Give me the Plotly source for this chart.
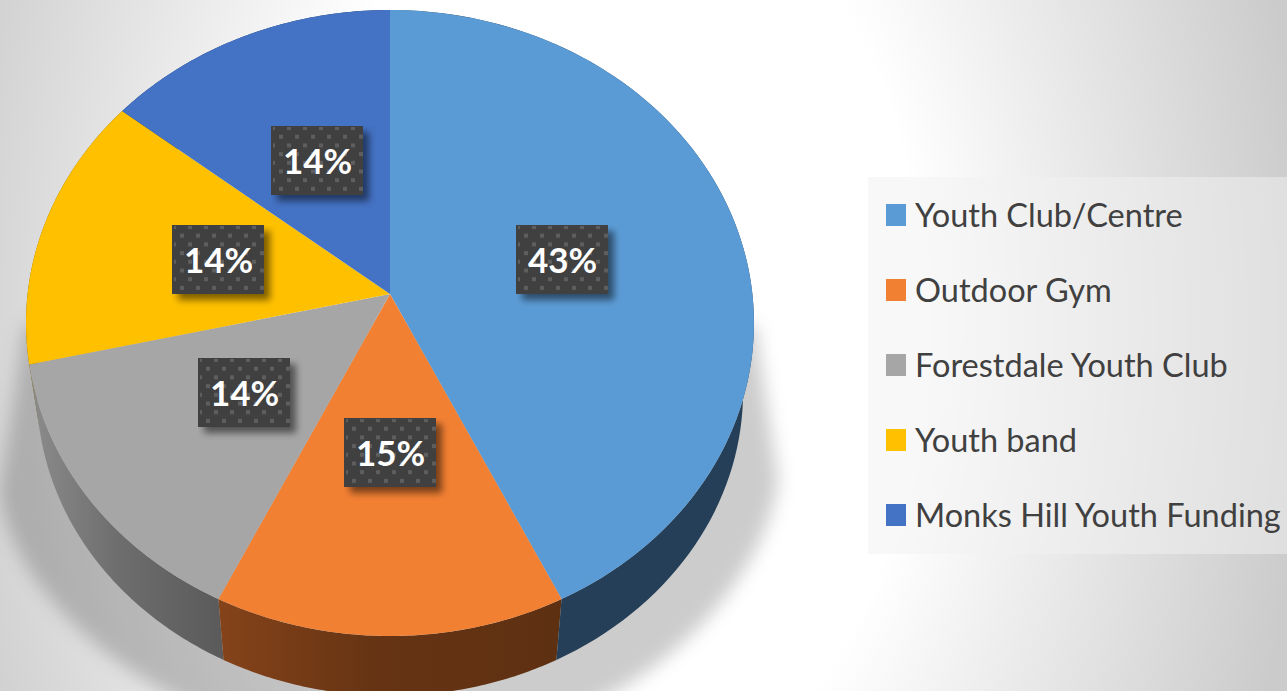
import base64, math
import numpy as np
import plotly.graph_objects as go

categories = ["Youth Club/Centre", "Outdoor Gym", "Forestdale Youth Club", "Youth band", "Monks Hill Youth Funding"]
counts = [3, 1, 1, 1, 1]
pct_labels = ["43%", "15%", "14%", "14%", "14%"]
top_colors = ["#5b9bd5", "#f28033", "#a6a6a6", "#ffc000", "#4472c4"]
wall_left = ["#243f57", "#85431a", "#8c8c8c", "#7f6000", "#203864"]
wall_mid = ["#243f57", "#663413", "#6e6e6e", "#7f6000", "#203864"]
wall_right = ["#243f57", "#5e3012", "#5a5a5a", "#7f6000", "#203864"]
label_boxes = [(516, 225), (344, 418), (198, 358), (172, 225), (271, 126)]
legend_y = [215, 290, 365, 440, 515]

W, H = 1287, 691
CX, CY = 390.0, 294.0
K, A, B = 0.0927, 310.3, 362.4
PLATE_DY, PLATE_S = 70.0, 0.97
BOX_W, BOX_H = 92, 69


def rim(theta, dy=0.0, s=1.0):
    X, Y = np.sin(theta), np.cos(theta)
    d = 1 + K * Y
    return CX + s * B * X / d, CY + dy - s * A * Y / d


def svg_uri(svg):
    return "data:image/svg+xml;base64," + base64.b64encode(svg.encode()).decode()


background = f"""<svg xmlns='http://www.w3.org/2000/svg' width='{W}' height='{H}' viewBox='0 0 {W} {H}'>
<defs>
<radialGradient id='bg' gradientUnits='userSpaceOnUse' cx='0' cy='0' r='700'
 gradientTransform='translate(610 325) scale(1 1.53)'>
<stop offset='0' stop-color='#ffffff'/><stop offset='0.445' stop-color='#ffffff'/>
<stop offset='1' stop-color='#cbcbcb'/></radialGradient>
<filter id='blur' x='-20%' y='-20%' width='140%' height='140%'><feGaussianBlur stdDeviation='9'/></filter>
</defs>
<rect width='{W}' height='{H}' fill='url(#bg)'/>
<path d='M755,325 L778,480 C768,565 680,680 540,725 L240,725 C110,680 8,580 0,490 L25,325 Z'
 fill='#000' fill-opacity='0.2' filter='url(#blur)'/>
</svg>"""

label_svg = f"""<svg xmlns='http://www.w3.org/2000/svg' width='{BOX_W+16}' height='{BOX_H+16}' viewBox='0 0 {BOX_W+16} {BOX_H+16}'>
<defs>
<pattern id='p' patternUnits='userSpaceOnUse' width='16' height='17.4'>
<rect x='0' y='0' width='4' height='4' fill='#5e5e5e'/>
<rect x='8' y='8.7' width='4' height='4' fill='#5e5e5e'/></pattern>
<filter id='s' x='-20%' y='-20%' width='140%' height='140%'><feGaussianBlur stdDeviation='3.5'/></filter>
</defs>
<rect x='6' y='6' width='{BOX_W}' height='{BOX_H}' fill='#000' fill-opacity='0.5' filter='url(#s)'/>
<rect width='{BOX_W}' height='{BOX_H}' fill='#404040'/>
<rect x='2' y='1' width='{BOX_W-2}' height='{BOX_H-1}' fill='url(#p)'/>
</svg>"""

fig = go.Figure()

fractions = np.array(counts, dtype=float) / sum(counts)
ends = np.cumsum(fractions) * 2 * math.pi
starts = np.concatenate([[0.0], ends[:-1]])

# side walls first (back slices first), then the top faces
for i in [4, 3, 2, 1, 0]:
    t = np.linspace(starts[i], ends[i], 90)
    xa, ya = rim(t)
    xb, yb = rim(t[::-1], PLATE_DY, PLATE_S)
    fig.add_trace(go.Scatter(
        x=np.r_[xa, xb], y=np.r_[ya, yb], mode="none", fill="toself",
        fillgradient=dict(type="horizontal",
                          colorscale=[[0, wall_left[i]], [0.45, wall_mid[i]], [1, wall_right[i]]]),
        hoverinfo="skip", showlegend=False))

for i in range(len(categories)):
    t = np.linspace(starts[i], ends[i], 120)
    xa, ya = rim(t)
    fig.add_trace(go.Scatter(
        x=np.r_[CX, xa, CX], y=np.r_[CY, ya, CY], mode="none", fill="toself",
        fillcolor=top_colors[i], name=categories[i], text=pct_labels[i],
        hoverinfo="name+text", showlegend=False))

images = [dict(source=svg_uri(background), xref="paper", yref="paper", x=0, y=1, sizex=1, sizey=1,
               xanchor="left", yanchor="top", sizing="stretch", layer="below")]
annotations = []
for (bx, by), txt in zip(label_boxes, pct_labels):
    images.append(dict(source=svg_uri(label_svg), xref="x", yref="y", x=bx, y=by,
                       sizex=BOX_W + 16, sizey=BOX_H + 16, xanchor="left", yanchor="top",
                       sizing="stretch", layer="above"))
    annotations.append(dict(x=bx + BOX_W / 2, y=by + BOX_H / 2 - 1, text=f"<b>{txt}</b>", showarrow=False,
                            xref="x", yref="y", font=dict(family="Lato", size=35, color="#ffffff")))

shapes = [dict(type="rect", xref="x", yref="y", x0=868, x1=W, y0=177, y1=554,
               fillcolor="rgba(242,242,242,0.5)", line_width=0, layer="below")]
for cat, col, ly in zip(categories, top_colors, legend_y):
    shapes.append(dict(type="rect", xref="x", yref="y", x0=886, x1=906, y0=ly - 11, y1=ly + 11,
                       fillcolor=col, line_width=0, layer="above"))
    annotations.append(dict(x=915, y=ly - 1, text=cat, showarrow=False, xanchor="left", xshift=-2, xref="x", yref="y",
                            font=dict(family="Lato", size=32.5, color="#404040")))

fig.update_layout(
    width=W, height=H, autosize=False,
    margin=dict(l=0, r=0, t=0, b=0, pad=0),
    paper_bgcolor="#ffffff", plot_bgcolor="rgba(0,0,0,0)",
    xaxis=dict(range=[0, W], visible=False, fixedrange=True),
    yaxis=dict(range=[H, 0], visible=False, fixedrange=True),
    images=images, shapes=shapes, annotations=annotations, showlegend=False,
)
fig.write_html("out.html", config=dict(displayModeBar=False),
               post_script="document.body.style.margin='0';document.documentElement.style.overflow='hidden';")
